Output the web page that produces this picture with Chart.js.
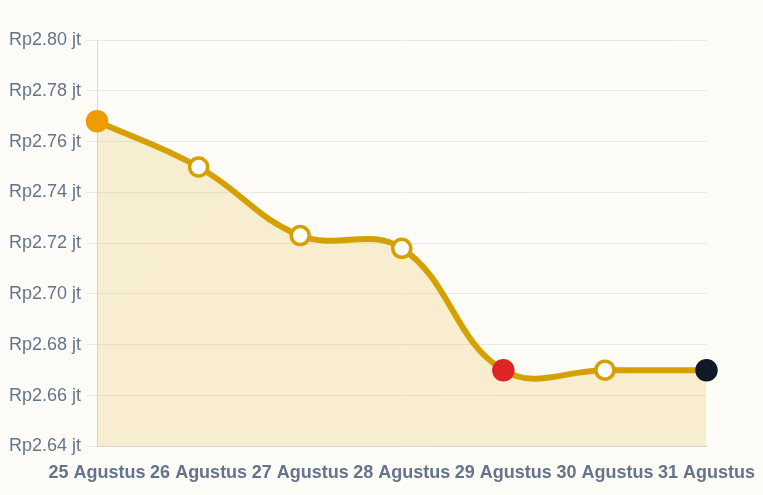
<!DOCTYPE html>
<html>
<head>
<meta charset="utf-8">
<script src="https://cdn.jsdelivr.net/npm/chart.js@4/dist/chart.umd.min.js"></script>
<style>
  html, body { margin: 0; padding: 0; }
  body {
    width: 763px; height: 495px;
    background: linear-gradient(135deg, #fdfcf9 0%, #fefcf6 100%);
  }
  #wrap { width: 763px; height: 495px; }
</style>
</head>
<body>
<div id="wrap"><canvas id="goldChart"></canvas></div>
<script>
// Tanggal dan harga (dalam juta rupiah)
let dates = ["25 Agustus", "26 Agustus", "27 Agustus", "28 Agustus", "29 Agustus", "30 Agustus", "31 Agustus"];
let prices = [2.768, 2.750, 2.723, 2.718, 2.670, 2.670, 2.670];

// Warna titik: pertama, terendah, terakhir ditandai
let pointColors = ["#ef9b00", "#ffffff", "#ffffff", "#ffffff", "#dc2626", "#ffffff", "#111827"];
let pointBorders = ["#ef9b00", "#d4a100", "#d4a100", "#d4a100", "#dc2626", "#d4a100", "#111827"];
let pointSizes = [9.5, 9, 9, 9, 9.5, 9, 9.5];

let drawingArea = document.getElementById("goldChart").getContext("2d");

let goldChart = new Chart(drawingArea, {
    type: "line",
    data: {
        labels: dates,
        datasets: [{
            data: prices,
            borderColor: "#d4a100",
            backgroundColor: "rgba(220, 170, 30, 0.18)",
            borderWidth: 6,
            tension: 0.4,
            fill: true,
            pointBackgroundColor: pointColors,
            pointBorderColor: pointBorders,
            pointBorderWidth: 3.5,
            pointRadius: pointSizes
        }]
    },
    options: {
        responsive: true,
        maintainAspectRatio: false,
        animation: false,
        layout: { padding: { top: 40, right: 11, left: 3, bottom: 3 } },
        plugins: {
            legend: { display: false },
            tooltip: { enabled: false }
        },
        scales: {
            y: {
                min: 2.64,
                max: 2.80,
                ticks: {
                    stepSize: 0.02,
                    color: "#64748b",
                    font: { family: "Liberation Sans", size: 18 },
                    padding: 6,
                    callback: function (v) { return "Rp" + v.toFixed(2) + " jt"; }
                },
                grid: { color: "#ebe9e6", tickLength: 10 },
                border: { color: "#dcdad8" }
            },
            x: {
                offset: false,
                ticks: {
                    color: "#64748b",
                    font: { family: "Liberation Sans", size: 18, weight: "bold" },
                    maxRotation: 0,
                    padding: 8
                },
                grid: { display: false },
                border: { color: "#d8d6d4" }
            }
        }
    }
});
</script>
</body>
</html>
